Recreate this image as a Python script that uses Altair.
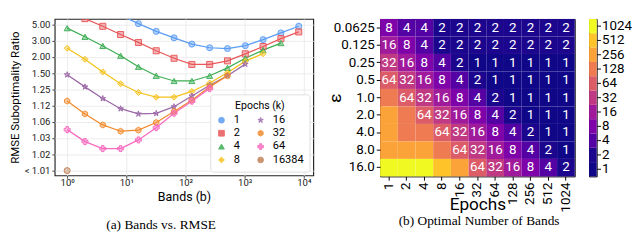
import altair as alt
import pandas as pd

# ---------------- Left panel data: Bands vs RMSE suboptimality ----------------
bands = [1, 2, 4, 8, 16, 32, 64, 128, 256, 512, 1024, 2048, 4096, 8192]
ratio_k1 = [None, None, None, 7.0, 5.17, 4.0, 3.28, 2.74, 2.49, 2.44, 2.63, 3.11, 3.81, 4.73]
ratio_k2 = [8.2, 6.17, 4.73, 3.62, 2.87, 2.31, 1.95, 1.73, 1.73, 1.85, 2.15, 2.57, 3.2, 3.93]
ratio_k4 = [4.44, 3.38, 2.61, 2.06, 1.66, 1.45, 1.36, 1.36, 1.45, 1.63, 1.95, 2.35, 2.82, None]
ratio_k8 = [2.46, 1.91, 1.53, 1.32, 1.22, 1.18, 1.18, 1.23, 1.33, 1.51, 1.84, 2.16, None, None]
ratio_k16 = [1.47, 1.28, 1.17, 1.11, 1.088, 1.09, 1.12, 1.19, 1.30, 1.45, 1.74, None, None, None]
ratio_k32 = [1.153, 1.088, 1.055, 1.042, 1.044, 1.061, 1.098, 1.158, 1.28, 1.45, None, None, None, None]
ratio_k64 = [1.045, 1.027, 1.020, 1.020, 1.029, 1.049, 1.091, 1.152, 1.26, None, None, None, None, None]
ratio_k16384 = [1.0078, None, None, None, None, None, None, None, None, None, None, None, None, None]

series = {
    "1": ratio_k1, "2": ratio_k2, "4": ratio_k4, "8": ratio_k8,
    "16": ratio_k16, "32": ratio_k32, "64": ratio_k64, "16384": ratio_k16384,
}

# legend order (Vega fills a 2-column legend column by column)
legend_order = ["1", "2", "4", "8", "16", "32", "64", "16384"]
legend_colors = ["#5b9cf2", "#e8585b", "#3fae56", "#f5c21c", "#9b6aa8", "#f28a2c", "#f76bbf", "#c2835a"]
STAR = "M0,-1L0.2245,-0.309L0.951,-0.309L0.363,0.118L0.588,0.809L0,0.382L-0.588,0.809L-0.363,0.118L-0.951,-0.309L-0.2245,-0.309Z"
HEX = "M0,-1L0.866,-0.5L0.866,0.5L0,1L-0.866,0.5L-0.866,-0.5Z"
legend_shapes = ["circle", "square", "triangle-up", "diamond", STAR, HEX, "cross", "circle"]

ytick_levels = [2, 1, 0, -1, -2, -3, -4, -5, -6, -7]
ytick_labels = ["5.00", "3.00", "2.00", "1.50", "1.25", "1.12", "1.06", "1.03", "1.02", "< 1.01"]
xtick_vals = [1, 10, 100, 1000, 10000]
xtick_labels = ["10⁰", "10¹", "10²", "10³", "10⁴"]

rows = []
for k, vals in series.items():
    for b, r in zip(bands, vals):
        if r is not None:
            rows.append({"bands": b, "ratio": r, "epochs": k})
df_left = pd.DataFrame(rows)


def chain(vals, labels):
    expr = ""
    for v, l in zip(vals, labels):
        expr += f"datum.value == {v} ? '{l}' : "
    return expr + "''"


xscale = alt.Scale(type="log", domain=[0.617, 14450], nice=False)
yscale = alt.Scale(domain=[-7.3, 2.35], nice=False, zero=False)
cscale = alt.Scale(domain=legend_order, range=legend_colors)
sscale = alt.Scale(domain=legend_order, range=legend_shapes)

xaxis = alt.Axis(values=xtick_vals, labelExpr=chain(xtick_vals, xtick_labels), title="Bands (b)",
                 titleFontSize=13, titleFontWeight="normal", labelFontSize=10, labelColor="#222",
                 tickSize=3, tickColor="#444", domain=False, gridColor="#ebebeb", labelPadding=0,
                 titlePadding=3, labelOverlap=False)
yaxis = alt.Axis(values=ytick_levels, labelExpr=chain(ytick_levels, ytick_labels),
                 title="RMSE Suboptimality Ratio", titleFontSize=12, titleFontWeight="normal",
                 labelFontSize=10, labelColor="#222", tickSize=3, tickColor="#444", domain=False,
                 gridColor="#ebebeb", titlePadding=3, labelPadding=2, labelOverlap=False,
                 labelBound=False)

leg = alt.Legend(title="Epochs (k)", columns=2, orient="bottom-right", offset=4,
                 fillColor="white", strokeColor="#dddddd", cornerRadius=3, padding=6,
                 titleFontSize=11, titleFontWeight="normal", titleAnchor="middle", titlePadding=4,
                 labelFontSize=11.5, symbolSize=36, rowPadding=1, columnPadding=16,
                 symbolStrokeWidth=1, labelOffset=7, symbolOpacity=0.85)

base = alt.Chart(df_left).transform_calculate(lvl="log(datum.ratio - 1) / LN2")

lines = base.mark_line(clip=True, strokeWidth=1.3).encode(
    x=alt.X("bands:Q", scale=xscale, axis=xaxis),
    y=alt.Y("lvl:Q", scale=yscale, axis=yaxis),
    color=alt.Color("epochs:N", scale=cscale, legend=leg),
    detail="epochs:N",
)
points = base.mark_point(clip=True, filled=False, size=40, strokeWidth=1, fillOpacity=0.45, opacity=1).encode(
    x=alt.X("bands:Q", scale=xscale, axis=xaxis),
    y=alt.Y("lvl:Q", scale=yscale, axis=yaxis),
    color=alt.Color("epochs:N", scale=cscale, legend=leg),
    fill=alt.Fill("epochs:N", scale=cscale, legend=leg),
    shape=alt.Shape("epochs:N", scale=sscale, legend=leg),
)

left_inner = alt.layer(lines, points).properties(
    width=271, height=164,
    title=alt.TitleParams(" ", orient="top", fontSize=2, offset=3),
    view=alt.ViewBackground(stroke="#222", strokeWidth=1.2),
)

left = alt.vconcat(left_inner).properties(
    title=alt.TitleParams("(a) Bands vs. RMSE", orient="bottom", font="Liberation Serif",
                          fontSize=14, fontWeight="normal", offset=15, anchor="middle"),
).resolve_scale(color="independent", fill="independent", shape="independent").resolve_legend(
    color="independent", fill="independent", shape="independent")

# ---------------- Right panel data: optimal number of bands ----------------
eps_labels = ["0.0625", "0.125", "0.25", "0.5", "1.0", "2.0", "4.0", "8.0", "16.0"]
epoch_cols = ["1", "2", "4", "8", "16", "32", "64", "128", "256", "512", "1024"]
opt_bands = [
    [8, 4, 4, 2, 2, 2, 2, 2, 2, 2, 2],
    [16, 8, 4, 2, 2, 2, 2, 2, 2, 2, 2],
    [32, 16, 8, 4, 2, 1, 1, 1, 1, 1, 1],
    [64, 32, 16, 8, 4, 2, 1, 1, 1, 1, 1],
    [128, 64, 32, 16, 8, 4, 2, 1, 1, 1, 1],
    [256, 128, 64, 32, 16, 8, 4, 2, 1, 1, 1],
    [256, 128, 128, 64, 32, 16, 8, 4, 2, 1, 1],
    [256, 256, 256, 128, 64, 32, 16, 8, 4, 2, 1],
    [1024, 1024, 1024, 512, 256, 64, 32, 16, 8, 4, 2],
]
cbar_vals = [1, 2, 4, 8, 16, 32, 64, 128, 256, 512, 1024]
cbar_colors = ["#0f0787", "#1d068e", "#5402a3", "#7e03a8", "#a01a9c", "#c03a83",
               "#dc5c68", "#ee7b51", "#fba238", "#fdc328", "#f0f921"]

hrows = []
for e, row in zip(eps_labels, opt_bands):
    for c, v in zip(epoch_cols, row):
        hrows.append({"eps": e, "ep": c, "val": v, "txt": str(v) if v <= 64 else ""})
df_heat = pd.DataFrame(hrows)

hscale = alt.Scale(domain=cbar_vals, range=cbar_colors)

hx = alt.X("ep:O", sort=epoch_cols, scale=alt.Scale(paddingInner=0, paddingOuter=0),
           axis=alt.Axis(title="Epochs", titleFontSize=18, titleFontWeight="normal", labelAngle=270,
                         labelFontSize=14, labelColor="black", tickSize=4, tickColor="black",
                         domain=False, labelPadding=2, titleY=30, titleBaseline="middle"))
hy = alt.Y("eps:O", sort=eps_labels, scale=alt.Scale(paddingInner=0, paddingOuter=0),
           axis=alt.Axis(title="ε", titleFontSize=18, titleFontWeight="normal", titleAngle=270,
                         labelFontSize=14, labelColor="black", tickSize=4, tickColor="black",
                         domain=False, labelPadding=2, titleX=-38))

heat = alt.Chart(df_heat).mark_rect().encode(
    x=hx, y=hy, color=alt.Color("val:O", scale=hscale, legend=None)
)
htext = alt.Chart(df_heat).transform_filter("datum.val <= 64").mark_text(
    color="white", fontSize=14, baseline="middle", align="center"
).encode(x=alt.X("ep:O", sort=epoch_cols), y=alt.Y("eps:O", sort=eps_labels), text="txt:N")

heatmap = alt.layer(heat, htext).properties(
    width=204, height=165, view=alt.ViewBackground(stroke="black", strokeWidth=1)
)

df_cb = pd.DataFrame({"val": cbar_vals})
cbar = alt.Chart(df_cb).mark_rect().encode(
    y=alt.Y("val:O", sort="descending", scale=alt.Scale(paddingInner=0, paddingOuter=0),
            axis=alt.Axis(orient="right", title=None, labelFontSize=14, labelColor="black",
                          tickSize=4, tickColor="black", domain=False, labelPadding=1)),
    color=alt.Color("val:O", scale=hscale, legend=None),
).properties(width=8, height=165, view=alt.ViewBackground(stroke="black", strokeWidth=1))

right_group = alt.hconcat(heatmap, cbar, spacing=13).properties(
    title=alt.TitleParams("(b) Optimal Number of Bands", orient="bottom", font="Liberation Serif",
                          fontSize=14, fontWeight="normal", offset=0, anchor="middle")
)

chart = alt.hconcat(left, right_group, spacing=12).resolve_scale(
    color="independent", fill="independent", shape="independent"
).resolve_legend(color="independent", fill="independent", shape="independent").properties(
    padding=0
).configure(font="Roboto").configure_axis(labelFont="Roboto", titleFont="Roboto").configure_legend(
    labelFont="Roboto", titleFont="Roboto"
)

chart.save("out.html", embed_options={"renderer": "svg", "actions": False})
